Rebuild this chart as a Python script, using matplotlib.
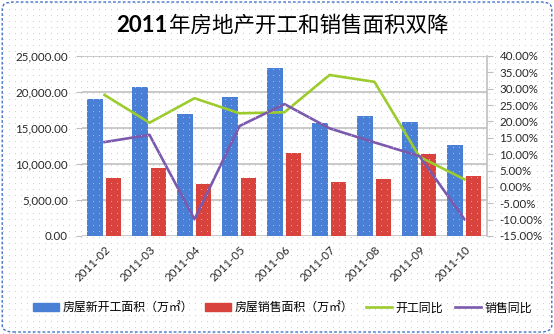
import numpy as np
import matplotlib
matplotlib.use("Agg")
import matplotlib.pyplot as plt
from matplotlib.patches import FancyBboxPatch, Patch
from matplotlib.lines import Line2D
from matplotlib.ticker import FuncFormatter, MultipleLocator

plt.rcParams["font.family"] = ["Lato", "Noto Sans CJK SC", "DejaVu Sans"]

months = ["2011-02", "2011-03", "2011-04", "2011-05", "2011-06",
          "2011-07", "2011-08", "2011-09", "2011-10"]
new_start_area = [19050, 20700, 16900, 19250, 23300, 15650, 16650, 15900, 12600]
sales_area = [8100, 9500, 7250, 8000, 11500, 7550, 7850, 11400, 8300]
start_yoy = [0.281, 0.196, 0.271, 0.225, 0.228, 0.342, 0.321, 0.092, 0.023]
sales_yoy = [0.137, 0.159, -0.099, 0.186, 0.253, 0.179, 0.136, 0.094, -0.099]

labels = ["房屋新开工面积（万㎡）", "房屋销售面积（万㎡）", "开工同比", "销售同比"]
title_num = "2011"
title_rest = "年房地产开工和销售面积双降"

BLUE = "#4a7fd6"
RED = "#d9433d"
GREEN = "#9ccb2e"
PURPLE = "#7b5aad"
GRID = "#c0c0c0"
TEXT = "#262626"

W, H = 554, 334
fig = plt.figure(figsize=(W / 100, H / 100), dpi=100)
fig.patch.set_facecolor("white")

# dotted paper texture behind everything
tex = np.zeros((H, W, 4))
tex[3::6, 3::6] = [0.78, 0.78, 0.78, 0.8]
fig.figimage(tex, 0, 0, zorder=0)

# rounded dashed frame
frame = FancyBboxPatch((0.004, 0.006), 0.992, 0.988, transform=fig.transFigure,
                       boxstyle="round,pad=0,rounding_size=0.02",
                       fc="none", ec="#4472c4", lw=1.0, ls=(0, (2, 1.5)))
fig.add_artist(frame)

ax = fig.add_axes([82 / W, 1 - 236 / H, 405 / W, 180 / H])
ax.set_facecolor("none")
ax2 = ax.twinx()

x = np.arange(len(months))
ax.bar(x - 0.21, new_start_area, width=0.34, color=BLUE, zorder=3)
ax.bar(x + 0.20, sales_area, width=0.33, color=RED, zorder=3)

ax.set_xlim(-0.5, len(months) - 0.5)
ax.set_ylim(0, 25000)
ax.yaxis.set_major_locator(MultipleLocator(5000))
ax.yaxis.set_major_formatter(FuncFormatter(lambda v, p: f"{v:,.2f}"))
ax.grid(axis="y", color=GRID, lw=1.2, zorder=1)
ax.set_axisbelow(True)
for s in ["top", "right", "left", "bottom"]:
    ax.spines[s].set_visible(False)
ax.tick_params(axis="y", length=4, color=GRID, labelsize=8.3, labelcolor=TEXT, pad=6)
ax.tick_params(axis="x", length=0, labelsize=8.3, labelcolor=TEXT, pad=6)
ax.set_xticks(x)
ax.set_xticklabels(months, rotation=45, ha="right", rotation_mode="anchor")

ax2.plot(x, start_yoy, color=GREEN, lw=1.9, zorder=4)
ax2.plot(x, sales_yoy, color=PURPLE, lw=1.9, zorder=4)
ax2.set_ylim(-0.15, 0.40)
ax2.yaxis.set_major_locator(MultipleLocator(0.05))
ax2.yaxis.set_major_formatter(FuncFormatter(lambda v, p: f"{v * 100:.2f}%"))
for s in ["top", "left", "bottom"]:
    ax2.spines[s].set_visible(False)
ax2.spines["right"].set_color(GRID)
ax2.spines["right"].set_linewidth(1.2)
ax2.tick_params(axis="y", length=4, color=GRID, labelsize=8.3, labelcolor=TEXT, pad=5)

handles = [Patch(color=BLUE), Patch(color=RED),
           Line2D([], [], color=GREEN, lw=1.9), Line2D([], [], color=PURPLE, lw=1.9)]
fig.legend(handles, labels, loc="center", bbox_to_anchor=(0.51, 1 - 308 / H),
           ncol=4, frameon=False, handlelength=2.2, handleheight=0.6,
           handletextpad=0.3, columnspacing=1.0,
           prop={"family": ["Noto Sans CJK SC", "DejaVu Sans"], "size": 8.6})

# title: bold digits followed by the Chinese text
t1 = fig.text(0, 1 - 26 / H, title_num, fontsize=16, weight="bold", va="center",
              color="black", family=["Lato", "DejaVu Sans"])
t2 = fig.text(0, 1 - 26 / H, title_rest, fontsize=15.5, va="center", color="black",
              family=["Noto Sans CJK SC", "DejaVu Sans"])
r = fig.canvas.get_renderer()
w1 = t1.get_window_extent(r).width
w2 = t2.get_window_extent(r).width
x0 = (W - (w1 + w2)) / 2 + 5
t1.set_x(x0 / W)
t2.set_x((x0 + w1 + 1) / W)

fig.savefig("out.png", dpi=100)
